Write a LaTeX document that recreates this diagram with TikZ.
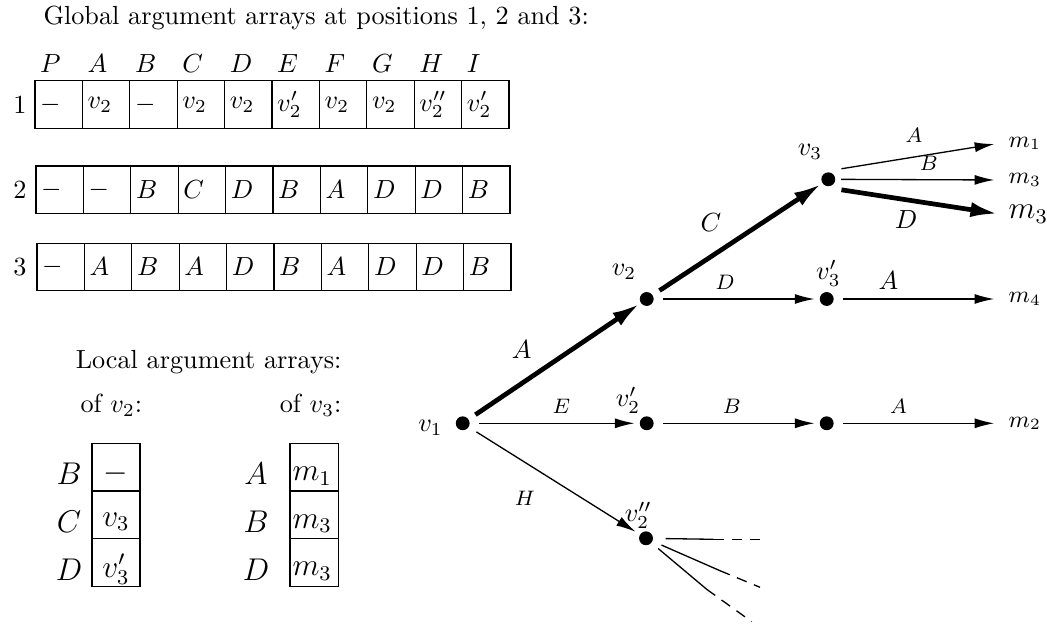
\documentclass[tikz,border=0pt]{standalone}
\usetikzlibrary{arrows.meta}

\begin{document}
\begin{tikzpicture}[x=0.01341cm, y=-0.01341cm, >={Latex[length=7.5pt,width=3.8pt]},
    vdot/.style={circle, fill, inner sep=0pt, minimum size=5.3pt},
    cell/.style={draw, line width=0.5pt, minimum width=18.1pt, minimum height=18.1pt,
                 inner xsep=2pt, text width=14.1pt, align=left},
    hdr/.style={inner xsep=2pt, text width=14.1pt, align=left},
    lcell/.style={draw, line width=0.5pt, minimum width=18.4pt, minimum height=18.2pt},
    elab/.style={font=\footnotesize},
    mlab/.style={anchor=west, inner xsep=3.5pt, font=\small},
    link/.style={->, line width=0.5pt, shorten <=3.3pt, shorten >=1.8pt},
    best link/.style={-{Latex[length=10.5pt,width=5.8pt]}, line width=1.8pt,
                      shorten <=3pt, shorten >=0.4pt}]
    \useasboundingbox (0,0) rectangle (1047,624);

    % global arrays
    \node[anchor=base west, inner sep=0pt] (title) at (43,25) {Global argument arrays at positions 1, 2 and 3:};
    \foreach \c [count=\i from 0] in {P,A,B,C,D,E,F,G,H,I}
        \node[hdr] (h\i) at ({58.7+47.4*\i},63.3) {$\c$};
    \foreach \c [count=\i from 0] in {-,v_2,-,v_2,v_2,v_2',v_2,v_2,v_2'',v_2'}
        \node[cell] (a\i) at ({58.7+47.4*\i},104.5) {$\c$};
    \foreach \c [count=\i from 0] in {-,-,B,C,D,B,A,D,D,B}
        \node[cell] (b\i) at ({59.7+47.4*\i},189.7) {$\c$};
    \foreach \c [count=\i from 0] in {-,A,B,A,D,B,A,D,D,B}
        \node[cell] (c\i) at ({60.7+47.4*\i},267) {$\c$};
    \node (n1) at (20,104.5) {1};
    \node (n2) at (20,189.7) {2};
    \node (n3) at (20,267) {3};

    % local arrays
    \node[anchor=base east, inner sep=0pt] (local) at (342,369) {Local argument arrays:};
    \node[anchor=base west, inner sep=0pt] (of2) at (80,413) {of $v_2$:};
    \node[anchor=base east, inner sep=0pt] (of3) at (342,413) {of $v_3$:};
    \foreach \r/\c [count=\i from 0] in {B/-,C/v_3,D/v_3'} {
        \node[lcell] (p\i) at (116,{467.1+47.7*\i}) {};
        \node[font=\large] (pt\i) at (116,{474+47.7*\i}) {$\c$};
        \node[font=\large] (pl\i) at (69,{474+47.7*\i}) {$\r$};
    }
    \foreach \r/\c [count=\i from 0] in {A/m_1,B/m_3,D/m_3} {
        \node[lcell] (q\i) at (314.2,{467.1+47.7*\i}) {};
        \node[anchor=west, inner sep=0.5pt, font=\large] (qt\i) at (290.7,{476+47.7*\i}) {$\c$};
        \node[font=\large] (ql\i) at (256,{474+47.7*\i}) {$\r$};
    }

    % search tree
    \node[vdot] (v1) at (462.7,423.3) {};
    \node[vdot] (v2) at (646.7,299) {};
    \node[vdot] (v2p) at (646.7,423.3) {};
    \node[vdot] (v2pp) at (646,538.3) {};
    \node[vdot] (v3) at (828.3,179.3) {};
    \node[vdot] (v3p) at (826.7,299) {};
    \node[vdot] (u3) at (826.7,423.3) {};

    \node (v1l) at (430.5,428.3) {$v_1$};
    \node (v2l) at (624,271.7) {$v_2$};
    \node (v2pl) at (628,400) {$v_2'$};
    \node (v2ppl) at (638.3,515) {$v_2''$};
    \node (v3l) at (810,151.7) {$v_3$};
    \node (v3pl) at (828.3,273.3) {$v_3'$};

    \node[mlab] (m1) at (999,143.3) {$m_1$};
    \node[mlab] (m3a) at (999,180) {$m_3$};
    \node[mlab, font=\large] (m3b) at (999,214) {$m_3$};
    \node[mlab] (m4) at (999,299) {$m_4$};
    \node[mlab] (m2) at (999,423.3) {$m_2$};

    \draw[best link] (v1) -- node[pos=.43, above left] (eA) {$A$} (v2);
    \draw[best link] (v2) -- node[pos=.47, above left] (eC) {$C$} (v3);
    \draw[link] (v1) -- node[pos=.54, above, elab] (eE) {$E$} (v2p);
    \draw[link] (v1) -- node[pos=.44, below left, yshift=-3pt, elab] (eH) {$H$} (v2pp);
    \draw[link] (v2) -- node[pos=.43, above, elab] (eD) {$D$} (v3p);
    \draw[link] (v2p) -- node[pos=.47, above, elab] (eB) {$B$} (u3);
    \draw[link] (v3p) -- node[pos=.33, above] (eA2) {$A$} (m4.west);
    \draw[link] (u3) -- node[pos=.39, above, elab] (eA3) {$A$} (m2.west);
    \draw[link, shorten <=0pt] ([shift={(3pt,2pt)}]v3.north east) -- node[pos=.46, above, yshift=2pt, elab] (eA4) {$A$} (m1.west);
    \draw[link, shorten <=2pt] (v3) -- node[pos=.57, above, elab] (eB2) {$B$} (m3a.west);
    \draw[best link, shorten <=0pt] ([shift={(3pt,-2pt)}]v3.south east) -- node[pos=.41, below] (eD2) {$D$} (m3b.west);

    % open branches below v2''
    \coordinate (b1) at (713.3,539.3);
    \coordinate (b1e) at (763.3,539.3);
    \coordinate (b2) at (720,570.7);
    \coordinate (b2e) at (760,587.3);
    \coordinate (b3) at (706.7,589.3);
    \coordinate (b3e) at (751.7,621.7);
    \foreach \m/\e/\s in {b1/b1e/4.6pt, b2/b2e/3.6pt, b3/b3e/3.2pt} {
        \draw[line width=0.5pt, shorten <=\s] (v2pp) -- (\m);
        \draw[line width=0.5pt, dash pattern=on 4pt off 3pt] (\m) -- (\e);
    }
\end{tikzpicture}
\end{document}
